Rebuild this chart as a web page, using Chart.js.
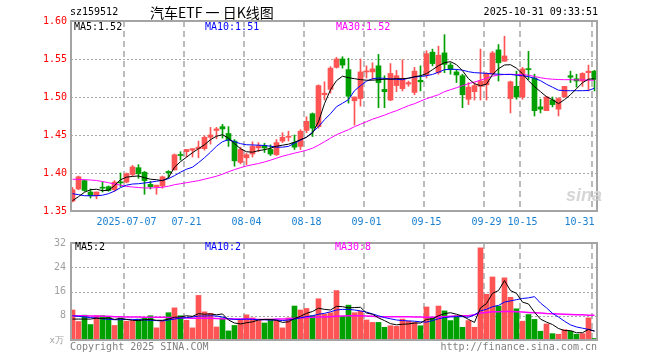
<!DOCTYPE html>
<html>
<head>
<meta charset="utf-8">
<script src="https://cdn.jsdelivr.net/npm/chart.js@4.4.1/dist/chart.umd.min.js"></script>
<style>
  html, body { margin: 0; padding: 0; background: #fff; }
  #wrap { position: relative; width: 660px; height: 360px; overflow: hidden;
          font-family: "DejaVu Sans Mono", monospace; font-size: 10px; }
  canvas { position: absolute; left: 0; }
  #cPrice { top: 0; }
  #cVol { top: 232px; }
  .t { position: absolute; white-space: nowrap; line-height: 12px; }
</style>
</head>
<body>
<div id="wrap">
  <canvas id="cPrice" width="660" height="232"></canvas>
  <canvas id="cVol" width="660" height="128"></canvas>

  <div class="t" style="left:70px;top:6px;color:#000">sz159512</div>
  <div class="t" style="left:150px;top:3px;line-height:18px;font-family:'Noto Sans CJK SC',sans-serif;font-size:14px;color:#000">汽车ETF 一 日K线图</div>
  <div class="t" style="right:62px;top:6px;color:#000">2025-10-31 09:33:51</div>

  <div class="t" style="left:74px;top:21px;color:#000">MA5:1.52</div>
  <div class="t" style="left:205px;top:21px;color:#0000ff">MA10:1.51</div>
  <div class="t" style="left:336px;top:21px;color:#ff00ff">MA30:1.52</div>

  <div class="t" style="left:75px;top:241px;color:#000">MA5:2</div>
  <div class="t" style="left:205px;top:241px;color:#0000ff">MA10:2</div>
  <div class="t" style="left:335px;top:241px;color:#ff00ff">MA30:8</div>

  <div class="t" style="right:596px;top:334px;font-size:9px;color:#a0a0a0">x万</div>
  <div class="t" style="left:70px;top:341px;color:#808080">Copyright 2025 SINA.COM</div>
  <div class="t" style="right:63px;top:341px;color:#808080">http://finance.sina.com.cn</div>

  <div class="t" style="left:566px;top:185px;line-height:20px;font-family:'Liberation Sans',sans-serif;font-style:italic;font-weight:bold;font-size:18px;color:#d6d6d6">sina</div>
</div>

<script>
// x positions of the date labels (index of the trading day) and their text
const tickIndex = [9, 19, 29, 39, 49, 59, 69, 75, 87];
const tickLabels = ["2025-07-07", "07-21", "08-04", "08-18", "09-01", "09-15", "09-29", "10-15", "10-31"];
const priceTicks = [1.35, 1.40, 1.45, 1.50, 1.55, 1.60];
const volTicks = [0, 8, 16, 24, 32];

const opens = [1.363,1.379,1.390,1.375,1.370,1.381,1.382,1.378,1.388,1.388,
  1.398,1.407,1.401,1.385,1.382,1.383,1.402,1.404,1.424,1.428,
  1.430,1.432,1.432,1.447,1.456,1.461,1.452,1.442,1.414,1.420,
  1.425,1.433,1.436,1.431,1.424,1.442,1.447,1.440,1.435,1.456,
  1.478,1.461,1.503,1.510,1.539,1.550,1.536,1.495,1.498,1.533,
  1.533,1.541,1.510,1.496,1.515,1.511,1.517,1.506,1.522,1.529,
  1.559,1.532,1.558,1.542,1.533,1.528,1.497,1.507,1.514,1.516,
  1.530,1.562,1.547,1.498,1.514,1.500,1.537,1.525,1.487,1.482,
  1.496,1.484,1.500,1.528,1.524,1.521,1.532,1.534];
const highs = [1.381,1.396,1.391,1.379,1.375,1.388,1.383,1.390,1.400,1.400,
  1.410,1.411,1.402,1.389,1.384,1.396,1.403,1.425,1.428,1.431,
  1.432,1.442,1.449,1.460,1.460,1.464,1.461,1.444,1.434,1.426,
  1.441,1.440,1.439,1.437,1.444,1.453,1.455,1.450,1.457,1.474,
  1.479,1.516,1.520,1.540,1.552,1.553,1.551,1.500,1.550,1.541,
  1.545,1.556,1.528,1.544,1.535,1.549,1.521,1.539,1.541,1.561,
  1.563,1.567,1.582,1.545,1.536,1.530,1.519,1.519,1.563,1.532,
  1.560,1.569,1.580,1.521,1.534,1.539,1.560,1.530,1.497,1.501,
  1.500,1.499,1.514,1.534,1.530,1.532,1.542,1.535];
const lows = [1.362,1.378,1.376,1.367,1.366,1.375,1.376,1.376,1.382,1.387,
  1.396,1.393,1.372,1.379,1.372,1.380,1.393,1.404,1.417,1.421,
  1.421,1.420,1.430,1.438,1.445,1.446,1.435,1.409,1.412,1.411,
  1.421,1.428,1.427,1.423,1.423,1.440,1.442,1.431,1.431,1.453,
  1.448,1.459,1.496,1.505,1.538,1.538,1.492,1.463,1.488,1.525,
  1.523,1.486,1.486,1.495,1.507,1.508,1.514,1.503,1.508,1.525,
  1.541,1.530,1.532,1.530,1.519,1.486,1.490,1.496,1.496,1.496,
  1.530,1.521,1.547,1.479,1.497,1.497,1.523,1.475,1.479,1.482,
  1.487,1.475,1.500,1.519,1.513,1.514,1.508,1.508];
const closes = [1.378,1.395,1.377,1.370,1.375,1.380,1.377,1.388,1.387,1.399,
  1.408,1.399,1.390,1.382,1.384,1.395,1.400,1.424,1.423,1.431,
  1.432,1.434,1.447,1.450,1.458,1.458,1.443,1.416,1.431,1.424,
  1.435,1.436,1.433,1.425,1.440,1.447,1.448,1.434,1.455,1.468,
  1.459,1.515,1.505,1.538,1.550,1.542,1.501,1.500,1.533,1.534,
  1.537,1.519,1.507,1.531,1.528,1.524,1.519,1.534,1.520,1.557,
  1.544,1.555,1.543,1.536,1.529,1.503,1.513,1.515,1.521,1.531,
  1.558,1.545,1.554,1.520,1.500,1.537,1.536,1.482,1.484,1.500,
  1.490,1.498,1.514,1.526,1.521,1.531,1.534,1.523];

const ma5 = [1.3636,1.3688,1.3747,1.3780,1.3787,1.3767,1.3774,1.3833,1.3912,1.3945,
  1.3955,1.3961,1.3938,1.3918,1.3912,1.3899,1.3938,1.4076,1.4149,1.4208,
  1.4267,1.4320,1.4372,1.4438,1.4484,1.4504,1.4458,1.4386,1.4320,1.4280,
  1.4274,1.4294,1.4307,1.4326,1.4353,1.4366,1.4379,1.4405,1.4438,1.4471,
  1.4526,1.4675,1.4912,1.5096,1.5215,1.5274,1.5254,1.5241,1.5228,1.5221,
  1.5221,1.5228,1.5234,1.5234,1.5241,1.5241,1.5247,1.5267,1.5280,1.5307,
  1.5359,1.5412,1.5451,1.5465,1.5425,1.5346,1.5241,1.5175,1.5149,1.5168,
  1.5294,1.5372,1.5421,1.5425,1.5379,1.5307,1.5215,1.5136,1.5070,1.5004,
  1.4965,1.4912,1.4965,1.5030,1.5109,1.5188,1.5234,1.5241];
const ma10 = [1.3728,1.3715,1.3701,1.3701,1.3701,1.3708,1.3728,1.3761,1.3807,1.3840,
  1.3855,1.3859,1.3869,1.3879,1.3892,1.3903,1.3925,1.3965,1.4011,1.4050,
  1.4076,1.4136,1.4201,1.4274,1.4353,1.4412,1.4438,1.4412,1.4386,1.4372,
  1.4369,1.4366,1.4362,1.4353,1.4340,1.4340,1.4350,1.4392,1.4432,1.4471,
  1.4537,1.4609,1.4701,1.4780,1.4872,1.4918,1.4965,1.5083,1.5149,1.5208,
  1.5241,1.5250,1.5245,1.5238,1.5232,1.5228,1.5247,1.5263,1.5271,1.5280,
  1.5297,1.5326,1.5359,1.5366,1.5363,1.5353,1.5333,1.5320,1.5316,1.5311,
  1.5304,1.5300,1.5297,1.5297,1.5287,1.5280,1.5267,1.5247,1.5215,1.5168,
  1.5129,1.5090,1.5083,1.5083,1.5083,1.5083,1.5086,1.5116];
const ma30 = [1.3918,1.3916,1.3912,1.3908,1.3901,1.3888,1.3872,1.3855,1.3840,1.3824,
  1.3816,1.3809,1.3803,1.3803,1.3807,1.3813,1.3826,1.3846,1.3859,1.3872,
  1.3886,1.3899,1.3918,1.3938,1.3958,1.3984,1.4017,1.4044,1.4070,1.4092,
  1.4109,1.4125,1.4145,1.4169,1.4195,1.4221,1.4241,1.4261,1.4280,1.4300,
  1.4326,1.4366,1.4412,1.4458,1.4504,1.4537,1.4570,1.4609,1.4642,1.4675,
  1.4708,1.4734,1.4761,1.4793,1.4820,1.4853,1.4886,1.4912,1.4945,1.4978,
  1.5004,1.5030,1.5070,1.5096,1.5122,1.5149,1.5175,1.5197,1.5221,1.5247,
  1.5274,1.5290,1.5296,1.5299,1.5296,1.5294,1.5287,1.5270,1.5254,1.5241,
  1.5234,1.5230,1.5228,1.5228,1.5225,1.5224,1.5222,1.5221];

// volume, in units of 10k
const volumes = [9.9,6.1,8.2,5.1,8.0,8.0,7.8,4.8,7.3,6.2,
  6.4,6.9,7.3,8.0,4.0,6.4,9.0,10.6,8.0,6.5,
  4.0,14.7,9.3,8.8,4.3,7.3,3.0,4.8,6.8,8.3,
  7.3,6.4,5.6,6.6,6.4,4.0,7.3,11.2,9.9,10.4,
  8.0,13.6,8.5,9.0,16.3,7.8,11.5,9.0,9.5,6.6,
  5.8,5.8,4.2,4.7,4.5,6.9,6.2,5.8,4.7,10.9,
  7.3,11.2,9.6,6.4,8.0,4.2,6.4,4.2,30.4,15.1,
  20.8,11.2,20.5,14.1,10.3,6.2,8.4,6.8,2.9,5.3,
  2.1,1.9,3.4,2.9,1.9,2.1,7.3,0.5];
const volMa5 = [6.9,6.9,6.9,6.9,7.2,7.1,7.3,6.8,7.1,6.8,
  6.5,6.4,6.7,6.8,6.5,6.5,6.9,7.5,7.6,8.0,
  7.8,8.7,8.5,8.6,8.3,8.6,6.6,5.6,5.3,5.7,
  6.0,6.6,6.8,6.8,6.5,5.8,6.0,7.1,7.8,8.8,
  9.4,10.5,10.1,9.9,11.1,11.0,10.6,10.7,10.8,8.9,
  8.5,7.3,6.4,5.4,5.0,5.2,5.3,5.6,5.6,6.8,
  7.0,8.0,8.7,9.0,8.5,7.9,6.8,5.8,10.6,12.0,
  15.4,16.3,19.6,16.3,15.4,12.5,11.9,9.2,6.9,5.9,
  5.1,3.8,3.1,3.1,2.4,2.4,3.5,2.9];
const volMa10 = [8.0,7.8,7.6,7.4,7.25,7.0,6.8,6.7,6.7,6.8,
  6.8,6.7,6.6,6.5,6.4,6.3,6.6,6.9,7.2,7.4,
  7.6,7.9,7.9,8.0,7.9,7.6,7.0,6.8,6.8,6.9,
  6.8,6.7,6.7,6.6,6.6,6.4,6.6,6.9,7.3,7.7,
  8.0,8.5,8.8,9.3,9.9,10.1,10.1,9.9,9.6,9.2,
  8.6,8.0,7.4,7.0,6.6,6.4,6.3,6.2,6.0,5.9,
  6.4,7.0,7.4,7.6,7.7,7.7,7.5,8.3,9.6,10.1,
  11.0,11.4,12.5,12.9,13.3,13.7,13.9,14.3,12.2,10.6,
  8.8,7.6,6.2,5.0,4.3,3.9,3.5,3.0];
const volMa30 = [8.0,8.0,8.0,7.9,7.9,7.8,7.8,7.7,7.7,7.6,
  7.6,7.6,7.5,7.5,7.5,7.5,7.4,7.3,7.3,7.25,
  7.2,7.2,7.2,7.15,7.1,7.0,7.0,6.9,6.9,6.9,
  6.9,6.8,6.8,6.8,6.9,6.9,7.0,7.2,7.3,7.4,
  7.5,7.6,7.6,7.7,7.8,7.9,8.0,8.0,8.0,7.9,
  7.8,7.7,7.7,7.7,7.7,7.7,7.7,7.6,7.6,7.5,
  7.5,7.6,7.7,7.8,7.9,8.0,8.0,8.3,8.9,9.1,
  9.3,9.3,9.4,9.4,9.3,9.2,9.1,9.0,8.9,8.75,
  8.7,8.6,8.5,8.4,8.3,8.3,8.2,8.2];

const UP = "#ff5454";
const DOWN = "#00a000";
const candleColors = closes.map((c, i) => (c >= opens[i] ? UP : DOWN));

Chart.defaults.font.family = "'DejaVu Sans Mono', monospace";
Chart.defaults.font.size = 10;

// dashed date lines, dotted value lines and the grey box, drawn from the chart's own scales
const gridPlugin = {
  id: "sinaGrid",
  beforeDatasetsDraw(chart) {
    const { ctx, chartArea: a, scales } = chart;
    ctx.save();
    ctx.strokeStyle = "#bcbcbc";
    ctx.lineWidth = 2;
    ctx.setLineDash([6, 4]);
    tickIndex.forEach((v) => {
      const x = Math.round(scales.x.getPixelForValue(v)) - 2;
      ctx.beginPath();
      ctx.moveTo(x, a.top);
      ctx.lineTo(x, a.bottom);
      ctx.stroke();
    });
    ctx.strokeStyle = "#a8a8a8";
    ctx.lineWidth = 1;
    ctx.setLineDash([2, 2]);
    scales.y.ticks.forEach((t) => {
      const y = Math.round(scales.y.getPixelForValue(t.value)) + 0.5;
      if (y < a.top + 2 || y > a.bottom - 2) return;
      ctx.beginPath();
      ctx.moveTo(a.left, y);
      ctx.lineTo(a.right, y);
      ctx.stroke();
    });
    ctx.restore();
  },
  afterDraw(chart) {
    const { ctx, chartArea: a } = chart;
    ctx.save();
    ctx.strokeStyle = "#a4a4a4";
    ctx.lineWidth = 2;
    ctx.strokeRect(a.left, a.top, a.right - a.left, a.bottom - a.top);
    ctx.restore();
  },
};

function xAxis(showLabels, height) {
  return {
    type: "linear",
    min: -0.25,
    max: 87.42,
    offset: false,
    afterBuildTicks: (s) => { s.ticks = tickIndex.map((v) => ({ value: v })); },
    afterFit: (s) => { s.height = height; },
    grid: { display: false, drawTicks: false, offset: false },
    border: { display: false },
    ticks: {
      display: showLabels,
      color: "#1a80d0",
      padding: 5,
      maxRotation: 0,
      autoSkip: false,
      // the last date sits flush left of its line, like the original
      callback: (v) => {
        const k = tickIndex.indexOf(v);
        if (k < 0) return "";
        return k === tickIndex.length - 1 ? tickLabels[k] + "     " : tickLabels[k];
      },
    },
  };
}

const line = (values, color, width = 1) => ({
  type: "line",
  data: values.map((v, i) => ({ x: i, y: v })),
  borderColor: color,
  borderWidth: width,
  pointRadius: 0,
  tension: 0,
});

const common = {
  responsive: false,
  animation: false,
  devicePixelRatio: 1,
  events: [],
  plugins: { legend: { display: false }, tooltip: { enabled: false } },
};

new Chart(document.getElementById("cPrice"), {
  type: "bar",
  data: {
    datasets: [
      line(ma5, "#000000"),
      line(ma10, "#0000ff"),
      line(ma30, "#ff00ff"),
      {
        data: opens.map((o, i) => ({ x: i, y: [o, closes[i]] })),
        backgroundColor: candleColors,
        barThickness: 5,
        minBarLength: 1,
        grouped: false,
        borderWidth: 0,
      },
      {
        data: lows.map((l, i) => ({ x: i, y: [l, highs[i]] })),
        backgroundColor: candleColors,
        barThickness: 1,
        grouped: false,
        borderWidth: 0,
      },
    ],
  },
  options: {
    ...common,
    layout: { padding: { top: 21, right: 63, left: 0, bottom: 0 } },
    scales: {
      x: xAxis(true, 21),
      y: {
        min: 1.35,
        max: 1.60,
        afterBuildTicks: (s) => { s.ticks = priceTicks.map((v) => ({ value: v })); },
        afterFit: (s) => { s.width = 71; },
        grid: { display: false, drawTicks: false },
        border: { display: false },
        ticks: { color: "#ff0000", padding: 4, callback: (v) => v.toFixed(2) },
      },
    },
  },
  plugins: [gridPlugin],
});

new Chart(document.getElementById("cVol"), {
  type: "bar",
  data: {
    datasets: [
      line(volMa5, "#000000"),
      line(volMa10, "#0000ff"),
      line(volMa30, "#ff00ff", 1.5),
      {
        data: volumes.map((v, i) => ({ x: i, y: v })),
        backgroundColor: candleColors,
        barThickness: 5,
        grouped: false,
        borderWidth: 0,
      },
    ],
  },
  options: {
    ...common,
    layout: { padding: { top: 8, right: 63, left: 0, bottom: 0 } },
    scales: {
      x: xAxis(false, 20),
      y: {
        min: 0,
        max: 32,
        afterBuildTicks: (s) => { s.ticks = volTicks.map((v) => ({ value: v })); },
        afterFit: (s) => { s.width = 71; },
        grid: { display: false, drawTicks: false },
        border: { display: false },
        ticks: { color: "#a0a0a0", padding: 5, callback: (v) => (v === 0 ? "" : String(v)) },
      },
    },
  },
  plugins: [gridPlugin],
});
</script>
</body>
</html>
